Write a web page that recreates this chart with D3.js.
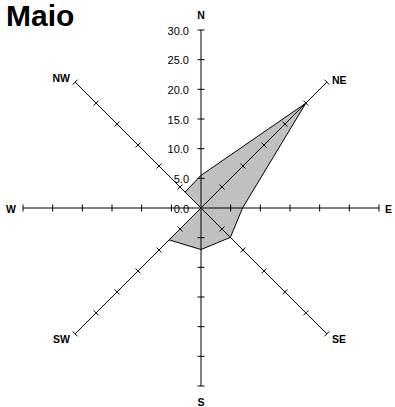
<!DOCTYPE html>
<html>
<head>
<meta charset="utf-8">
<script src="https://cdn.jsdelivr.net/npm/d3@7"></script>
<style>
  html, body { margin: 0; padding: 0; background: #fff; }
  svg { display: block; font-family: "Liberation Sans", Arial, sans-serif; }
</style>
</head>
<body>
<svg id="chart" width="395" height="407"></svg>
<script>
// Wind directions, clockwise from north
const directions = ["N", "NE", "E", "SE", "S", "SW", "W", "NW"];
// Wind frequency per direction for May
const values = [5.5, 25, 7, 7, 7, 7.6, 0, 3.8];
// Radial tick values and their labels
const tickValues = [0, 5, 10, 15, 20, 25, 30];
const tickLabels = ["0.0", "5.0", "10.0", "15.0", "20.0", "25.0", "30.0"];

const svg = d3.select("#chart");
const cx = 201, cy = 208;

const r = d3.scaleLinear().domain([0, 30]).range([0, 178]);
const angle = d3.scalePoint().domain(directions).range([0, 2 * Math.PI * 7 / 8]);

function pt(dir, v) {
  const a = angle(dir);
  return [cx + r(v) * Math.sin(a), cy - r(v) * Math.cos(a)];
}

// Title
svg.append("text")
  .attr("x", 6).attr("y", 26)
  .attr("font-size", 30).attr("font-weight", "bold")
  .text("Maio");

// Data polygon
const line = d3.line().curve(d3.curveLinearClosed);
svg.append("path")
  .attr("d", line(directions.map((d, i) => pt(d, values[i]))))
  .attr("fill", "#c0c0c0")
  .attr("stroke", "#000")
  .attr("stroke-width", 1);

// Spokes with cross ticks
const g = svg.append("g");
directions.forEach(dir => {
  const a = angle(dir);
  const end = pt(dir, 30);
  g.append("line")
    .attr("x1", cx).attr("y1", cy)
    .attr("x2", end[0]).attr("y2", end[1])
    .attr("stroke", "#000").attr("stroke-width", 1);
  const px = Math.cos(a), py = Math.sin(a); // perpendicular to spoke
  tickValues.slice(1).forEach(t => {
    const p = pt(dir, t);
    g.append("line")
      .attr("x1", p[0] - 3.5 * px).attr("y1", p[1] - 3.5 * py)
      .attr("x2", p[0] + 3.5 * px).attr("y2", p[1] + 3.5 * py)
      .attr("stroke", "#000").attr("stroke-width", 1);
  });
});

// Radial scale labels along the north spoke
tickValues.forEach((t, i) => {
  svg.append("text")
    .attr("x", cx - 12)
    .attr("y", cy - r(t) + 4.5)
    .attr("text-anchor", "end")
    .attr("font-size", 11)
    .attr("fill", "#000")
    .text(tickLabels[i]);
});

// Direction labels
const labelPos = {
  N:  { x: 201, y: 19,  anchor: "middle" },
  NE: { x: 332, y: 84,  anchor: "start" },
  E:  { x: 385, y: 213, anchor: "start" },
  SE: { x: 332, y: 343, anchor: "start" },
  S:  { x: 201, y: 406, anchor: "middle" },
  SW: { x: 70,  y: 343, anchor: "end" },
  W:  { x: 16,  y: 213, anchor: "end" },
  NW: { x: 70,  y: 82,  anchor: "end" }
};
directions.forEach(dir => {
  const p = labelPos[dir];
  svg.append("text")
    .attr("x", p.x).attr("y", p.y)
    .attr("text-anchor", p.anchor)
    .attr("font-size", 10.5).attr("font-weight", "bold")
    .text(dir);
});
</script>
</body>
</html>
